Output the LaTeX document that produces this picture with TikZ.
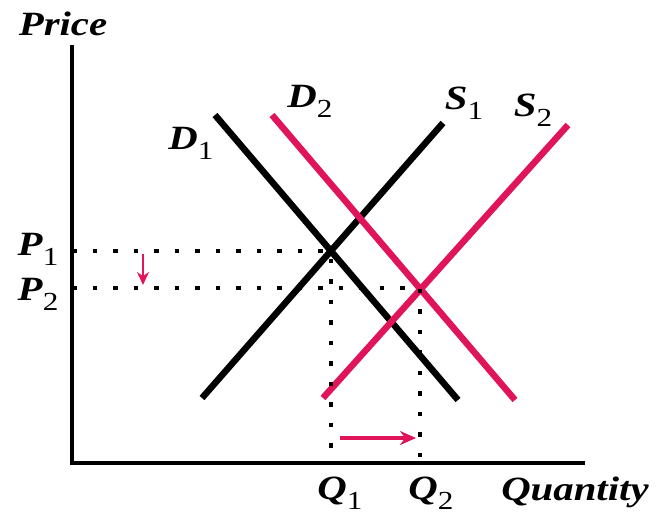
\documentclass[tikz,border=0pt]{standalone}
\usepackage{fontspec}
\setmainfont[FakeStretch=1.2]{Liberation Serif}
\usetikzlibrary{arrows.meta}
\definecolor{shiftred}{HTML}{E0145A}
\newcommand{\sublab}[2]{\textbf{\textit{#1}}\raisebox{-0.3em}{\fontsize{26}{26}\selectfont #2}}

\begin{document}
\begin{tikzpicture}[x=1pt,y=-1pt,
  font=\fontsize{34}{36}\selectfont,
  curve/.style={line width=6.5pt},
  shifted/.style={curve,draw=shiftred},
  axisline/.style={line width=3.5pt},
  guide/.style={line width=4.5pt,dash pattern=on 4.5pt off 16pt},
  move/.style={draw=shiftred,-{Stealth[length=16pt,width=14pt]}},
  lbl/.style={inner sep=0pt}
]
\useasboundingbox (0,0) rectangle (658,516);

% --- axes
\coordinate (top)   at (72,45);
\coordinate (orig)  at (72,463);
\coordinate (right) at (585,463);
\draw[axisline] (top) -- (orig) -- (right);

% --- curves
\coordinate (d1a) at (215,115); \coordinate (d1b) at (458,400);
\coordinate (s1a) at (202,398); \coordinate (s1b) at (443,123);
\coordinate (d2a) at (272,115); \coordinate (d2b) at (515,400);
\coordinate (s2a) at (323,398); \coordinate (s2b) at (568,125);

\draw[curve]   (d1a) -- (d1b);
\draw[curve]   (s1a) -- (s1b);
\draw[shifted] (d2a) -- (d2b);
\draw[shifted] (s2a) -- (s2b);

% --- equilibria and guides
\coordinate (e1) at (331,251);
\coordinate (e2) at (420,288);
\draw[guide] (e1 -| orig) -- (e1) -- (e1 |- orig);
\draw[guide] (e2 -| orig) -- (e2) -- (e2 |- orig);

% --- shifts
\coordinate (pa) at (143,254); \coordinate (pb) at (143,285);
\coordinate (qa) at (340,438); \coordinate (qb) at (416,438);
\draw[move,line width=2.5pt,-{Stealth[length=13pt,width=12pt]}] (pa) -- (pb);
\draw[move,line width=4.5pt] (qa) -- (qb);

% --- labels
\node[lbl] (price) at (63,24)  {\textbf{\textit{Price}}};
\node[lbl] (qty)   at (575,492) {\textbf{\textit{Quantity}}};
\node[lbl] (dl1)   at (191,143) {\sublab{D}{1}};
\node[lbl] (dl2)   at (310,101) {\sublab{D}{2}};
\node[lbl] (sl1)   at (464,103) {\sublab{S}{1}};
\node[lbl] (sl2)   at (533,110) {\sublab{S}{2}};
\node[lbl] (pl1)   at (38,249)  {\sublab{P}{1}};
\node[lbl] (pl2)   at (38,294)  {\sublab{P}{2}};
\node[lbl] (ql1)   at (340,493) {\sublab{Q}{1}};
\node[lbl] (ql2)   at (431,493) {\sublab{Q}{2}};
\end{tikzpicture}
\end{document}
